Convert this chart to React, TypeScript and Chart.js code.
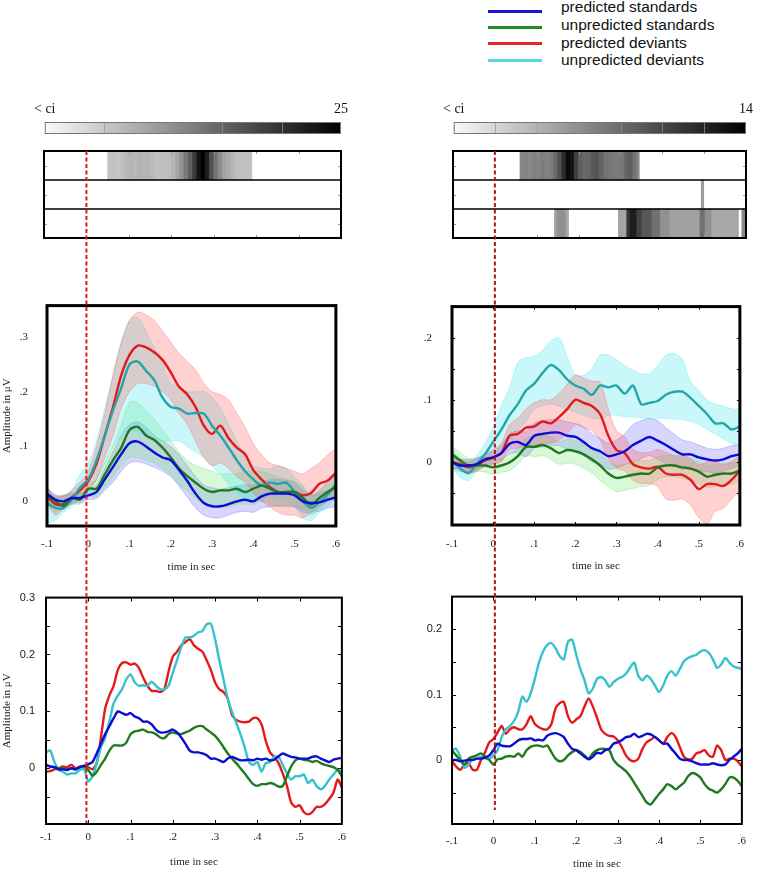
import React, { useEffect, useRef } from 'react';
import { Chart, registerables } from 'chart.js';
Chart.register(...registerables);

const SERIF = "'Liberation Serif', 'Times New Roman', serif";
const SANS = "'Liberation Sans', Arial, sans-serif";

// ---------- time axes ----------
const T02 = [-0.1,-0.08,-0.06,-0.04,-0.02,0,0.02,0.04,0.06,0.08,0.1,0.12,0.14,0.16,0.18,0.2,0.22,0.24,0.26,0.28,0.3,0.32,0.34,0.36,0.38,0.4,0.42,0.44,0.46,0.48,0.5,0.52,0.54,0.56,0.58,0.6];
const T01 = [-0.1,-0.09,-0.08,-0.07,-0.06,-0.05,-0.04,-0.03,-0.02,-0.01,0,0.01,0.02,0.03,0.04,0.05,0.06,0.07,0.08,0.09,0.1,0.11,0.12,0.13,0.14,0.15,0.16,0.17,0.18,0.19,0.2,0.21,0.22,0.23,0.24,0.25,0.26,0.27,0.28,0.29,0.3,0.31,0.32,0.33,0.34,0.35,0.36,0.37,0.38,0.39,0.4,0.41,0.42,0.43,0.44,0.45,0.46,0.47,0.48,0.49,0.5,0.51,0.52,0.53,0.54,0.55,0.56,0.57,0.58,0.59,0.6];
const ONSET = 0;

// ---------- legend ----------
const SERIES_LABELS = ['predicted standards', 'unpredicted standards', 'predicted deviants', 'unpredicted deviants'];
const LEGEND_COLORS = ['#1414d2', '#1f8a2a', '#e22424', '#58d8e6'];

// ---------- colour bars ----------
const CB_LEFT_MAX = 25;
const CB_LEFT_STEP = 5;
const CB_RIGHT_MAX = 14;
const CB_RIGHT_STEP = 2;
const CB_LOW_LABEL = '< ci';

// ---------- heat map rows: [start s, end s, value] ----------
const HEAT_L1 = [[0.05,0.06,5.4],[0.06,0.07,5.6],[0.07,0.08,5.4],[0.08,0.09,5.8],[0.09,0.10,6.5],[0.10,0.11,7],[0.11,0.12,6.6],[0.12,0.13,7],[0.13,0.14,6.8],[0.14,0.15,7],[0.15,0.16,6.5],[0.16,0.17,5.8],[0.17,0.18,5.8],[0.18,0.19,5.8],[0.19,0.20,6],[0.20,0.21,7],[0.21,0.22,8.5],[0.22,0.23,10.5],[0.23,0.24,13],[0.24,0.25,15.5],[0.25,0.26,19],[0.26,0.27,23],[0.27,0.28,25],[0.28,0.29,22],[0.29,0.30,17],[0.30,0.31,13.5],[0.31,0.32,11],[0.32,0.33,9],[0.33,0.34,8],[0.34,0.35,7],[0.35,0.36,6],[0.36,0.37,5.8],[0.37,0.38,5.8],[0.38,0.39,5.6]];
const HEAT_L2: number[][] = [];
const HEAT_L3: number[][] = [];
const HEAT_R1 = [[0.06,0.07,6.4],[0.07,0.08,6.6],[0.08,0.09,6.4],[0.09,0.10,6.8],[0.10,0.11,6.6],[0.11,0.12,7],[0.12,0.13,6.8],[0.13,0.14,7],[0.14,0.15,8],[0.15,0.16,9.5],[0.16,0.17,11.5],[0.17,0.18,13.5],[0.18,0.19,13],[0.19,0.20,10.4],[0.20,0.21,8.6],[0.21,0.22,8.2],[0.22,0.23,8.4],[0.23,0.24,9],[0.24,0.25,9.2],[0.25,0.26,8.4],[0.26,0.27,7.6],[0.27,0.28,7.4],[0.28,0.29,7.2],[0.29,0.30,7.1],[0.30,0.31,7.4],[0.31,0.32,8.4],[0.32,0.33,8.6],[0.33,0.34,7.4],[0.34,0.345,6.4]];
const HEAT_R2 = [[0.493,0.499,5.2]];
const HEAT_R3 = [[0.142,0.148,4.6],[0.148,0.170,5.9],[0.170,0.176,4.6],[0.295,0.315,4.8],[0.315,0.323,11],[0.323,0.339,12.4],[0.339,0.351,10.4],[0.351,0.375,9.1],[0.375,0.395,7.7],[0.395,0.418,5.9],[0.418,0.490,5.0],[0.490,0.502,7.7],[0.502,0.518,5.9],[0.518,0.582,4.6],[0.590,0.598,6.4]];
const HEAT_TICKS = [0.1, 0.2, 0.3, 0.4, 0.5];

// ---------- middle left (means + CI bands), 0.02 s steps ----------
const ML_BLUE = [0.014,0.003,0,0.006,0.006,0.011,0.017,0.04,0.063,0.086,0.106,0.109,0.1,0.089,0.08,0.075,0.057,0.037,0.014,-0.003,-0.009,-0.009,-0.005,0,0.003,0,0.009,0.014,0.014,0.014,0.011,0,-0.003,-0.002,0.003,0.007];
const ML_GREEN = [0.011,0.0,-0.008,0.006,0.003,0.023,0.023,0.049,0.075,0.098,0.13,0.136,0.12,0.112,0.098,0.08,0.06,0.046,0.034,0.023,0.017,0.02,0.02,0.023,0.017,0.023,0.029,0.023,0.017,0.017,0.017,0.006,-0.006,0.006,0.017,0.026];
const ML_RED = [0.009,-0.005,-0.005,0.007,0.02,0.037,0.069,0.12,0.172,0.23,0.267,0.284,0.281,0.272,0.258,0.235,0.209,0.195,0.172,0.138,0.123,0.138,0.115,0.098,0.086,0.057,0.04,0.026,0.017,0.017,0.017,0.011,0.015,0.032,0.038,0.052];
const ML_CYAN = [-0.003,-0.012,-0.012,0.003,0.025,0.04,0.075,0.12,0.166,0.207,0.25,0.255,0.238,0.221,0.189,0.172,0.169,0.16,0.161,0.16,0.138,0.12,0.098,0.075,0.055,0.04,0.029,0.034,0.032,0.034,0.017,0.0,-0.012,-0.002,0.012,0.032];
const ML_BLUE_HI = [0.025,0.012,0.01,0.015,0.015,0.02,0.03,0.06,0.09,0.12,0.14,0.145,0.135,0.12,0.11,0.1,0.085,0.065,0.045,0.03,0.025,0.022,0.025,0.028,0.03,0.03,0.035,0.04,0.04,0.038,0.035,0.02,0.012,0.015,0.02,0.025];
const ML_BLUE_LO = [0.0,-0.008,-0.01,-0.003,-0.003,0.003,0.005,0.02,0.035,0.055,0.07,0.072,0.068,0.062,0.055,0.045,0.028,0.008,-0.012,-0.025,-0.03,-0.03,-0.025,-0.02,-0.018,-0.02,-0.012,-0.01,-0.008,-0.008,-0.01,-0.02,-0.02,-0.018,-0.012,-0.01];
const ML_GREEN_HI = [0.02,0.008,0.012,0.012,0.015,0.03,0.04,0.07,0.1,0.14,0.18,0.18,0.165,0.15,0.13,0.11,0.09,0.075,0.065,0.06,0.055,0.05,0.05,0.05,0.055,0.055,0.055,0.05,0.045,0.04,0.035,0.025,0.01,0.02,0.035,0.045];
const ML_GREEN_LO = [-0.005,-0.02,-0.01,-0.005,-0.005,0.01,0.008,0.025,0.045,0.065,0.08,0.08,0.075,0.07,0.06,0.05,0.03,0.02,0.005,-0.005,-0.01,-0.01,-0.01,-0.005,-0.005,-0.005,0.0,-0.005,-0.01,-0.01,-0.01,-0.015,-0.025,-0.015,0.0,0.01];
const ML_RED_HI = [0.025,0.01,0.01,0.02,0.035,0.055,0.1,0.16,0.23,0.29,0.33,0.345,0.34,0.33,0.31,0.29,0.27,0.255,0.24,0.215,0.2,0.195,0.185,0.16,0.135,0.105,0.085,0.07,0.065,0.06,0.055,0.05,0.06,0.07,0.085,0.095];
const ML_RED_LO = [-0.005,-0.025,-0.015,-0.005,0.005,0.02,0.04,0.08,0.12,0.17,0.2,0.215,0.215,0.21,0.2,0.185,0.16,0.14,0.11,0.08,0.065,0.07,0.06,0.045,0.035,0.015,0.0,-0.01,-0.02,-0.025,-0.025,-0.03,-0.02,-0.01,0.0,0.01];
const ML_CYAN_HI = [0.025,0.005,0.01,0.02,0.05,0.07,0.11,0.17,0.23,0.29,0.33,0.335,0.31,0.28,0.25,0.215,0.21,0.2,0.2,0.2,0.19,0.17,0.14,0.11,0.08,0.065,0.06,0.06,0.065,0.06,0.045,0.03,0.01,0.02,0.035,0.05];
const ML_CYAN_LO = [-0.04,-0.035,-0.02,-0.01,0.005,0.015,0.04,0.07,0.1,0.12,0.13,0.125,0.12,0.115,0.11,0.11,0.11,0.1,0.09,0.08,0.065,0.05,0.03,0.015,0.005,0.005,0.0,0.01,0.005,0.005,-0.01,-0.03,-0.035,-0.02,-0.01,0.01];

// ---------- middle right (means + CI bands), 0.02 s steps ----------
const MR_BLUE = [-0.001,-0.006,-0.006,-0.004,0.004,0.007,0.014,0.029,0.032,0.027,0.042,0.045,0.047,0.047,0.042,0.04,0.032,0.022,0.017,0.009,0.012,0.017,0.027,0.034,0.04,0.034,0.027,0.019,0.012,0.012,0.007,0.004,0.002,0.004,0.009,0.012];
const MR_GREEN = [0.012,0.002,-0.006,-0.006,-0.006,-0.009,-0.006,-0.001,0.009,0.024,0.024,0.027,0.022,0.014,0.019,0.017,0.012,0.004,-0.006,-0.019,-0.026,-0.024,-0.021,-0.019,-0.019,-0.009,-0.006,-0.006,-0.009,-0.011,-0.016,-0.024,-0.021,-0.019,-0.019,-0.014];
const MR_RED = [-0.001,-0.004,-0.009,-0.006,0.002,0.007,0.014,0.042,0.045,0.055,0.057,0.065,0.062,0.072,0.085,0.1,0.095,0.09,0.077,0.042,0.019,0.014,-0.004,-0.009,-0.011,-0.008,-0.019,-0.021,-0.021,-0.029,-0.044,-0.036,-0.036,-0.039,-0.029,-0.014];
const MR_CYAN = [0.002,-0.011,-0.018,-0.004,0.012,0.032,0.052,0.075,0.093,0.115,0.126,0.143,0.156,0.148,0.133,0.123,0.118,0.108,0.123,0.12,0.123,0.11,0.123,0.093,0.095,0.098,0.108,0.113,0.113,0.103,0.09,0.077,0.062,0.062,0.052,0.057];
const MR_BLUE_HI = [0.008,0.004,0.004,0.006,0.012,0.017,0.026,0.045,0.05,0.048,0.062,0.066,0.068,0.068,0.064,0.062,0.056,0.045,0.038,0.03,0.035,0.045,0.06,0.066,0.07,0.066,0.055,0.045,0.035,0.032,0.027,0.022,0.02,0.022,0.026,0.028];
const MR_BLUE_LO = [-0.01,-0.016,-0.016,-0.014,-0.006,-0.003,0.003,0.013,0.014,0.008,0.022,0.024,0.026,0.026,0.02,0.018,0.01,0.0,-0.004,-0.012,-0.01,-0.005,0.0,0.005,0.01,0.004,-0.002,-0.007,-0.012,-0.01,-0.014,-0.016,-0.018,-0.015,-0.01,-0.006];
const MR_GREEN_HI = [0.025,0.015,0.005,0.004,0.004,0.002,0.005,0.012,0.022,0.038,0.04,0.043,0.04,0.032,0.036,0.034,0.03,0.022,0.012,0.0,-0.006,-0.004,-0.001,0.002,0.002,0.008,0.01,0.01,0.007,0.005,0.0,-0.006,-0.004,-0.002,-0.002,0.0];
const MR_GREEN_LO = [0.0,-0.01,-0.017,-0.016,-0.016,-0.02,-0.017,-0.014,-0.004,0.01,0.008,0.01,0.004,-0.004,-0.002,-0.004,-0.01,-0.018,-0.03,-0.04,-0.048,-0.046,-0.043,-0.04,-0.038,-0.028,-0.024,-0.024,-0.027,-0.03,-0.035,-0.042,-0.04,-0.037,-0.036,-0.03];
const MR_RED_HI = [0.008,0.005,0.0,0.005,0.012,0.02,0.03,0.06,0.07,0.085,0.095,0.1,0.1,0.11,0.125,0.14,0.135,0.13,0.128,0.085,0.05,0.04,0.02,0.015,0.015,0.02,0.015,0.01,0.01,0.005,-0.005,0.0,0.0,-0.005,0.0,0.01];
const MR_RED_LO = [-0.01,-0.012,-0.02,-0.015,-0.008,-0.005,0.0,0.02,0.022,0.025,0.025,0.03,0.03,0.035,0.045,0.06,0.055,0.05,0.035,0.005,-0.01,-0.015,-0.03,-0.035,-0.035,-0.04,-0.06,-0.062,-0.06,-0.07,-0.09,-0.1,-0.08,-0.075,-0.06,-0.045];
const MR_CYAN_HI = [0.02,0.005,0.0,0.01,0.03,0.055,0.09,0.12,0.16,0.168,0.17,0.18,0.195,0.2,0.17,0.14,0.14,0.15,0.172,0.172,0.165,0.155,0.148,0.142,0.142,0.155,0.172,0.175,0.165,0.13,0.115,0.1,0.093,0.09,0.085,0.085];
const MR_CYAN_LO = [-0.01,-0.025,-0.03,-0.015,-0.005,0.005,0.02,0.035,0.05,0.065,0.085,0.09,0.093,0.09,0.085,0.08,0.075,0.07,0.07,0.075,0.075,0.073,0.072,0.071,0.07,0.07,0.07,0.069,0.068,0.065,0.06,0.052,0.045,0.037,0.03,0.025];

// ---------- bottom left, 0.01 s steps ----------
const BL_BLUE = [0.006,0.003,0.002,-0.002,-0.002,-0.003,0,-0.002,0.002,0.004,0.007,0.011,0.026,0.043,0.06,0.074,0.088,0.1,0.097,0.094,0.097,0.091,0.088,0.082,0.082,0.077,0.068,0.063,0.063,0.065,0.068,0.063,0.054,0.043,0.031,0.028,0.028,0.026,0.023,0.017,0.017,0.014,0.011,0.017,0.02,0.017,0.014,0.014,0.015,0.014,0.017,0.015,0.017,0.014,0.015,0.021,0.026,0.023,0.02,0.019,0.017,0.017,0.017,0.02,0.021,0.017,0.014,0.011,0.015,0.017,0.018];
const BL_GREEN = [0.006,0.003,0.002,0,0,-0.002,0,-0.002,0.002,0.003,-0.003,-0.013,-0.006,0.006,0.017,0.031,0.04,0.04,0.04,0.045,0.06,0.065,0.066,0.068,0.064,0.063,0.06,0.054,0.053,0.06,0.063,0.061,0.06,0.063,0.066,0.071,0.074,0.074,0.068,0.063,0.057,0.048,0.037,0.026,0.017,0.009,0,-0.009,-0.019,-0.028,-0.031,-0.028,-0.028,-0.026,-0.028,-0.032,-0.031,-0.014,0.003,0.014,0.017,0.015,0.014,0.011,0.013,0.009,0.006,0.004,0.002,-0.003,-0.014];
const BL_RED = [-0.006,-0.005,-0.002,0,0.003,0.002,0.006,0,0.003,0.004,0.002,-0.002,0.009,0.054,0.105,0.128,0.145,0.173,0.185,0.186,0.182,0.184,0.176,0.159,0.145,0.136,0.136,0.134,0.139,0.17,0.196,0.205,0.216,0.222,0.227,0.216,0.21,0.205,0.19,0.173,0.151,0.139,0.134,0.122,0.094,0.085,0.082,0.081,0.082,0.088,0.088,0.077,0.048,0.028,0.02,0.009,-0.009,-0.031,-0.06,-0.068,-0.065,-0.077,-0.081,-0.077,-0.068,-0.068,-0.063,-0.054,-0.043,-0.02,-0.034];
const BL_CYAN = [0.028,0.031,0.011,-0.003,-0.006,-0.011,-0.009,-0.009,-0.003,-0.002,-0.023,-0.014,0.009,0.037,0.054,0.082,0.114,0.128,0.139,0.156,0.165,0.151,0.145,0.146,0.145,0.152,0.145,0.139,0.139,0.145,0.168,0.19,0.213,0.23,0.23,0.233,0.239,0.241,0.253,0.254,0.227,0.19,0.156,0.122,0.099,0.08,0.06,0.037,0.011,0.006,0.011,-0.006,0.009,0.011,0.02,0.02,0.006,-0.009,-0.02,-0.014,-0.014,-0.011,-0.026,-0.02,-0.031,-0.037,-0.031,-0.02,-0.011,-0.003,-0.006];

// ---------- bottom right, 0.01 s steps ----------
const BR_BLUE = [0,0,-0.002,-0.001,0,0,0.002,0.002,0.004,0.007,0.015,0.025,0.022,0.021,0.021,0.025,0.03,0.032,0.032,0.033,0.03,0.031,0.03,0.037,0.04,0.041,0.039,0.035,0.025,0.017,0.015,0.01,0.005,0.001,0.005,0.011,0.01,0.015,0.017,0.025,0.027,0.03,0.035,0.036,0.04,0.035,0.037,0.04,0.039,0.035,0.03,0.025,0.025,0.017,0.01,0.002,0,0,-0.002,-0.005,-0.007,-0.007,-0.007,-0.005,-0.007,-0.008,-0.007,0,0.005,0.01,0.017];
const BR_GREEN = [0.015,0.007,0,-0.007,0.002,0.005,0.007,0.01,0.005,0,-0.007,0.001,0.002,0.005,0.006,0.005,0.01,0.005,0.015,0.02,0.022,0.022,0.02,0.022,0.012,0.002,-0.002,0,0.007,0.012,0.015,0.012,0.007,0.002,0.01,0.015,0.017,0.017,0.015,0,-0.007,-0.012,-0.017,-0.025,-0.035,-0.045,-0.055,-0.065,-0.068,-0.06,-0.052,-0.045,-0.037,-0.04,-0.045,-0.04,-0.035,-0.025,-0.02,-0.022,-0.027,-0.037,-0.044,-0.047,-0.05,-0.045,-0.037,-0.027,-0.027,-0.032,-0.04];
const BR_RED = [-0.002,-0.01,-0.015,-0.007,-0.005,-0.015,-0.015,0,0.012,0.027,0.032,0.042,0.052,0.04,0.047,0.05,0.047,0.047,0.055,0.067,0.055,0.05,0.047,0.047,0.055,0.079,0.087,0.089,0.067,0.057,0.062,0.067,0.082,0.094,0.082,0.065,0.047,0.04,0.037,0.036,0.03,0.02,0.007,0,-0.002,0.002,0.017,0.027,0.031,0.035,0.03,0.025,0.035,0.041,0.035,0.02,0.005,0.001,0.002,0.01,0.012,0.015,0.007,0.005,0.022,0.015,0,0.002,0.002,-0.002,-0.01];
const BR_CYAN = [0.015,0.017,0.005,-0.012,-0.007,0.002,0.002,0.005,0.002,0.002,0.007,0.015,0.035,0.047,0.052,0.06,0.074,0.097,0.089,0.102,0.124,0.149,0.166,0.176,0.179,0.171,0.159,0.154,0.181,0.184,0.161,0.139,0.122,0.102,0.109,0.124,0.127,0.122,0.112,0.119,0.124,0.127,0.132,0.141,0.149,0.129,0.122,0.129,0.124,0.114,0.104,0.114,0.129,0.136,0.129,0.139,0.151,0.156,0.159,0.161,0.166,0.168,0.164,0.154,0.141,0.146,0.156,0.149,0.143,0.141,0.139];

// ---------- styling ----------
const C_BLUE = '#0c0cd2';
const C_GREEN = '#1f7a1f';
const C_RED = '#e21a1c';
const C_TEAL = '#22a6a8';
const C_CYAN = '#34c3cc';
const F_BLUE = 'rgba(95,95,255,0.26)';
const F_GREEN = 'rgba(90,225,90,0.24)';
const F_RED = 'rgba(255,85,85,0.27)';
const F_CYAN = 'rgba(60,228,238,0.27)';

const grayOf = (v: number, max: number) => {
  const g = Math.round(250 * (1 - Math.max(0, Math.min(v, max)) / max));
  return `rgb(${g},${g},${g})`;
};

const fmtShort = (v: number) => {
  const r = Math.round(v * 10) / 10;
  if (Math.abs(r) < 1e-9) return '0';
  return String(r).replace('0.', '.');
};
const isTenth = (v: number) => Math.abs(v * 10 - Math.round(v * 10)) < 1e-6;
const fmtYMid = (value: any) => {
  const v = Number(value);
  if (!isTenth(v) || v < -1e-9) return '';
  return fmtShort(v);
};
const fmtYBot = (value: any) => {
  const v = Number(value);
  if (!isTenth(v) || v < -1e-9) return '';
  return Math.abs(v) < 1e-9 ? '0' : v.toFixed(1);
};

// ---------- plugins ----------
const framePlugin = {
  id: 'frame',
  afterDraw(chart: any, _a: any, opts: any) {
    const { ctx, chartArea: a, scales } = chart;
    ctx.save();
    const L = opts.tickLen || 0;
    if (L > 0) {
      ctx.strokeStyle = '#000';
      ctx.lineWidth = 1;
      ctx.beginPath();
      scales.x.ticks.forEach((t: any) => {
        const px = Math.round(scales.x.getPixelForValue(t.value)) + 0.5;
        if (px < a.left + 3 || px > a.right - 3) return;
        ctx.moveTo(px, a.bottom); ctx.lineTo(px, a.bottom - L);
        ctx.moveTo(px, a.top); ctx.lineTo(px, a.top + L);
      });
      scales.y.ticks.forEach((t: any) => {
        const py = Math.round(scales.y.getPixelForValue(t.value)) + 0.5;
        if (py < a.top + 3 || py > a.bottom - 3) return;
        ctx.moveTo(a.left, py); ctx.lineTo(a.left + L, py);
        ctx.moveTo(a.right, py); ctx.lineTo(a.right - L, py);
      });
      ctx.stroke();
    }
    ctx.strokeStyle = '#000';
    ctx.lineWidth = opts.lineWidth;
    ctx.strokeRect(a.left, a.top, a.right - a.left, a.bottom - a.top);
    ctx.restore();
  },
};

const heatFramePlugin = {
  id: 'heatFrame',
  afterDraw(chart: any) {
    const { ctx, chartArea: a, scales } = chart;
    const x = scales.x, y = scales.y;
    ctx.save();
    ctx.strokeStyle = '#999';
    ctx.lineWidth = 1;
    ctx.beginPath();
    HEAT_TICKS.forEach((t) => {
      const px = Math.round(x.getPixelForValue(t)) + 0.5;
      ctx.moveTo(px, a.bottom); ctx.lineTo(px, a.bottom - 3);
      ctx.moveTo(px, a.top); ctx.lineTo(px, a.top + 3);
    });
    [0, 1, 2].forEach((i) => {
      const py = Math.round(y.getPixelForValue(i)) + 0.5;
      ctx.moveTo(a.left, py); ctx.lineTo(a.left + 3, py);
      ctx.moveTo(a.right, py); ctx.lineTo(a.right - 3, py);
    });
    ctx.stroke();
    ctx.strokeStyle = '#000';
    ctx.lineWidth = 1.5;
    ctx.beginPath();
    [0.5, 1.5].forEach((i) => {
      const py = y.getPixelForValue(i);
      ctx.moveTo(a.left, py); ctx.lineTo(a.right, py);
    });
    ctx.stroke();
    ctx.lineWidth = 2;
    ctx.strokeRect(a.left, a.top, a.right - a.left, a.bottom - a.top);
    ctx.restore();
  },
};

const colorbarPlugin = {
  id: 'cbFrame',
  afterDatasetsDraw(chart: any) {
    const { ctx, chartArea: a, scales } = chart;
    ctx.save();
    ctx.strokeStyle = 'rgba(150,150,150,0.7)';
    ctx.lineWidth = 1;
    ctx.beginPath();
    scales.x.ticks.forEach((t: any) => {
      const px = Math.round(scales.x.getPixelForValue(t.value)) + 0.5;
      if (px < a.left + 2 || px > a.right - 2) return;
      ctx.moveTo(px, a.top); ctx.lineTo(px, a.bottom);
    });
    ctx.stroke();
    ctx.strokeStyle = '#777';
    ctx.strokeRect(a.left + 0.5, a.top + 0.5, a.right - a.left - 1, a.bottom - a.top - 1);
    ctx.restore();
  },
};

const onsetPlugin = {
  id: 'onset',
  afterDraw(chart: any, _a: any, opts: any) {
    const { ctx, chartArea: a, scales } = chart;
    const px = scales.x.getPixelForValue(opts.at);
    ctx.save();
    ctx.strokeStyle = opts.color;
    ctx.lineWidth = 2;
    ctx.setLineDash([4, 2.5]);
    ctx.beginPath();
    ctx.moveTo(px, a.top);
    ctx.lineTo(px, a.bottom);
    ctx.stroke();
    ctx.restore();
  },
};

// ---------- dataset helpers ----------
const pts = (T: number[], V: number[]) => T.slice(0, V.length).map((t, i) => ({ x: t, y: V[i] }));
const lineDs = (T: number[], V: number[], color: string, label: string, tension: number) => ({
  label, data: pts(T, V), borderColor: color, borderWidth: 2.4, pointRadius: 0, tension, fill: false,
});
const bandDs = (T: number[], HI: number[], LO: number[], fill: string) => {
  const edge = fill.replace(/[\d.]+\)$/, '0.45)');
  return [
    { label: 'ci+', data: pts(T, HI), borderColor: edge, borderWidth: 0.7, backgroundColor: fill, fill: '+1', pointRadius: 0, tension: 0.3 },
    { label: 'ci-', data: pts(T, LO), borderColor: edge, borderWidth: 0.7, fill: false, pointRadius: 0, tension: 0.3 },
  ];
};

type PanelSpec = {
  pl: number; pt: number; pr: number; pb: number;
  yMin: number; yMax: number; yFmt: (v: any) => string; yFont: string;
  xPad: number; yPad: number; titlePad: number; yTitle: boolean;
  frameWidth: number; tickLen: number; datasets: () => any[];
};

const lineConfig = (p: PanelSpec) => () => ({
  type: 'line',
  data: { datasets: p.datasets() },
  options: {
    responsive: false, animation: false, devicePixelRatio: 1, events: [],
    layout: { padding: { top: p.pt, right: p.pr, left: 0, bottom: 0 } },
    plugins: { legend: { display: false }, tooltip: { enabled: false }, frame: { lineWidth: p.frameWidth, tickLen: p.tickLen } },
    scales: {
      x: {
        type: 'linear', min: -0.1, max: 0.6,
        afterFit: (s: any) => { s.height = p.pb; },
        grid: { display: false, drawTicks: false }, border: { display: false },
        ticks: { stepSize: 0.1, autoSkip: false, maxRotation: 0, padding: p.xPad, color: '#1a1a1a', font: { family: SERIF, size: 11 }, callback: (v: any) => fmtShort(Number(v)) },
        title: { display: true, text: 'time in sec', color: '#1a1a1a', font: { family: SERIF, size: 11 }, padding: { top: 0, bottom: p.titlePad } },
      },
      y: {
        type: 'linear', min: p.yMin, max: p.yMax,
        afterFit: (s: any) => { s.width = p.pl; },
        grid: { display: false, drawTicks: false }, border: { display: false },
        ticks: { stepSize: 0.05, autoSkip: false, includeBounds: false, padding: p.yPad, color: '#1a1a1a', font: { family: p.yFont, size: 11 }, callback: p.yFmt },
        title: { display: p.yTitle, text: 'Amplitude in μV', color: '#1a1a1a', font: { family: SERIF, size: 11 }, padding: { top: 1, bottom: 0 } },
      },
    },
  },
  plugins: [framePlugin],
});

const heatConfig = (rows: number[][][], max: number) => () => ({
  type: 'bar',
  data: {
    labels: ['r1', 'r2', 'r3'],
    datasets: rows.map((segs, r) => ({
      data: segs.map((s) => ({ x: [s[0], s[1]], y: ['r1', 'r2', 'r3'][r] })),
      backgroundColor: segs.map((s) => grayOf(s[2], max)),
      borderWidth: 0, barPercentage: 1, categoryPercentage: 1, grouped: false,
    })),
  },
  options: {
    indexAxis: 'y', responsive: false, animation: false, devicePixelRatio: 1, events: [],
    layout: { padding: 4 },
    plugins: { legend: { display: false }, tooltip: { enabled: false } },
    scales: {
      x: { type: 'linear', min: -0.1, max: 0.6, display: false },
      y: { type: 'category', display: false },
    },
  },
  plugins: [heatFramePlugin],
});

const colorbarConfig = (max: number, step: number, pr: number) => () => ({
  type: 'bar',
  data: {
    labels: ['cb'],
    datasets: [{
      data: [[0, max]],
      backgroundColor: (c: any) => {
        const ch = c.chart;
        const sx = ch.scales && ch.scales.x;
        if (!ch.chartArea || !sx) return '#888';
        const g = ch.ctx.createLinearGradient(sx.getPixelForValue(0), 0, sx.getPixelForValue(max), 0);
        g.addColorStop(0, grayOf(0, max));
        g.addColorStop(1, grayOf(max, max));
        return g;
      },
      borderWidth: 0, barPercentage: 1, categoryPercentage: 1,
    }],
  },
  options: {
    indexAxis: 'y', responsive: false, animation: false, devicePixelRatio: 1, events: [],
    layout: { padding: { left: 14, right: pr, top: 0, bottom: 4 } },
    plugins: { legend: { display: false }, tooltip: { enabled: false } },
    scales: {
      x: {
        type: 'linear', position: 'top', min: 0, max,
        afterFit: (s: any) => { s.height = 27; },
        grid: { display: false, drawTicks: false }, border: { display: false },
        ticks: {
          stepSize: step, autoSkip: false, maxRotation: 0, padding: 4, color: '#111',
          font: { family: SERIF, size: 14 },
          callback: (v: any) => {
            const n = Number(v);
            if (Math.abs(n) < 1e-9) return CB_LOW_LABEL;
            if (Math.abs(n - max) < 1e-9) return String(max);
            return '';
          },
        },
      },
      y: { display: false },
    },
  },
  plugins: [colorbarPlugin],
});

const onsetConfig = (color: string) => () => ({
  type: 'scatter',
  data: { datasets: [] },
  options: {
    responsive: false, animation: false, devicePixelRatio: 1, events: [],
    layout: { padding: 0 },
    plugins: { legend: { display: false }, tooltip: { enabled: false }, onset: { at: ONSET, color } },
    scales: { x: { type: 'linear', min: -0.1, max: 0.6, display: false }, y: { type: 'linear', min: 0, max: 1, display: false } },
  },
  plugins: [onsetPlugin],
});

// ---------- panel specs ----------
const ML = lineConfig({
  pl: 47, pt: 13, pr: 10, pb: 54, yMin: -0.045, yMax: 0.357, yFmt: fmtYMid, yFont: SERIF,
  xPad: 12, yPad: 19, titlePad: 6, yTitle: true, frameWidth: 3, tickLen: 0,
  datasets: () => [
    lineDs(T02, ML_BLUE, C_BLUE, SERIES_LABELS[0], 0.3),
    lineDs(T02, ML_GREEN, C_GREEN, SERIES_LABELS[1], 0.3),
    lineDs(T02, ML_CYAN, C_TEAL, SERIES_LABELS[3], 0.3),
    lineDs(T02, ML_RED, C_RED, SERIES_LABELS[2], 0.3),
    ...bandDs(T02, ML_RED_HI, ML_RED_LO, F_RED),
    ...bandDs(T02, ML_CYAN_HI, ML_CYAN_LO, F_CYAN),
    ...bandDs(T02, ML_GREEN_HI, ML_GREEN_LO, F_GREEN),
    ...bandDs(T02, ML_BLUE_HI, ML_BLUE_LO, F_BLUE),
  ],
});
const MR = lineConfig({
  pl: 42, pt: 13, pr: 9, pb: 55, yMin: -0.102, yMax: 0.2503, yFmt: fmtYMid, yFont: SERIF,
  xPad: 13, yPad: 20, titlePad: 7, yTitle: false, frameWidth: 3, tickLen: 3,
  datasets: () => [
    lineDs(T02, MR_BLUE, C_BLUE, SERIES_LABELS[0], 0.3),
    lineDs(T02, MR_GREEN, C_GREEN, SERIES_LABELS[1], 0.3),
    lineDs(T02, MR_CYAN, C_TEAL, SERIES_LABELS[3], 0.3),
    lineDs(T02, MR_RED, C_RED, SERIES_LABELS[2], 0.3),
    ...bandDs(T02, MR_RED_HI, MR_RED_LO, F_RED),
    ...bandDs(T02, MR_CYAN_HI, MR_CYAN_LO, F_CYAN),
    ...bandDs(T02, MR_GREEN_HI, MR_GREEN_LO, F_GREEN),
    ...bandDs(T02, MR_BLUE_HI, MR_BLUE_LO, F_BLUE),
  ],
});
const BL = lineConfig({
  pl: 46, pt: 11, pr: 10, pb: 47, yMin: -0.098, yMax: 0.3, yFmt: fmtYBot, yFont: SANS,
  xPad: 7, yPad: 11, titlePad: 2, yTitle: true, frameWidth: 2, tickLen: 4,
  datasets: () => [
    lineDs(T01, BL_BLUE, C_BLUE, SERIES_LABELS[0], 0.25),
    lineDs(T01, BL_GREEN, C_GREEN, SERIES_LABELS[1], 0.25),
    lineDs(T01, BL_CYAN, C_CYAN, SERIES_LABELS[3], 0.25),
    lineDs(T01, BL_RED, C_RED, SERIES_LABELS[2], 0.25),
  ],
});
const BR = lineConfig({
  pl: 42, pt: 10, pr: 8, pb: 47, yMin: -0.098, yMax: 0.25, yFmt: fmtYBot, yFont: SANS,
  xPad: 11, yPad: 10, titlePad: 0, yTitle: false, frameWidth: 2, tickLen: 4,
  datasets: () => [
    lineDs(T01, BR_BLUE, C_BLUE, SERIES_LABELS[0], 0.25),
    lineDs(T01, BR_GREEN, C_GREEN, SERIES_LABELS[1], 0.25),
    lineDs(T01, BR_CYAN, C_CYAN, SERIES_LABELS[3], 0.25),
    lineDs(T01, BR_RED, C_RED, SERIES_LABELS[2], 0.25),
  ],
});

function ChartCanvas({ x, y, w, h, make }: { x: number; y: number; w: number; h: number; make: () => any }) {
  const ref = useRef<HTMLCanvasElement>(null);
  useEffect(() => {
    const chart = new Chart(ref.current as HTMLCanvasElement, make());
    return () => chart.destroy();
  }, []);
  return (
    <canvas
      ref={ref}
      width={w}
      height={h}
      style={{ position: 'absolute', left: x, top: y, width: w, height: h, display: 'block' }}
    />
  );
}

function Legend() {
  const lineTops = [10, 26, 42, 58.5];
  const textCenters = [7, 25, 42.5, 60];
  return (
    <div style={{ position: 'absolute', left: 0, top: 0 }}>
      {SERIES_LABELS.map((lab, i) => (
        <React.Fragment key={lab}>
          <div style={{ position: 'absolute', left: 488, top: lineTops[i], width: 54, height: 3, background: LEGEND_COLORS[i] }} />
          <div style={{ position: 'absolute', left: 561, top: textCenters[i] - 9, height: 18, lineHeight: '18px', whiteSpace: 'nowrap', fontFamily: SANS, fontSize: 15.5, color: '#111' }}>{lab}</div>
        </React.Fragment>
      ))}
    </div>
  );
}

export default function App() {
  return (
    <div style={{ position: 'absolute', left: 0, top: 0, width: 757, height: 871, background: '#fff', overflow: 'hidden' }}>
      <Legend />
      <ChartCanvas x={30} y={95} w={327} h={43} make={colorbarConfig(CB_LEFT_MAX, CB_LEFT_STEP, 16)} />
      <ChartCanvas x={439} y={95} w={318} h={43} make={colorbarConfig(CB_RIGHT_MAX, CB_RIGHT_STEP, 10)} />
      <ChartCanvas x={40} y={147} w={305} h={95} make={heatConfig([HEAT_L1, HEAT_L2, HEAT_L3], CB_LEFT_MAX)} />
      <ChartCanvas x={449} y={147} w={301} h={95} make={heatConfig([HEAT_R1, HEAT_R2, HEAT_R3], CB_RIGHT_MAX)} />
      <ChartCanvas x={0} y={280} w={352} h={300} make={ML} />
      <ChartCanvas x={410} y={280} w={347} h={300} make={MR} />
      <ChartCanvas x={0} y={580} w={353} h={291} make={BL} />
      <ChartCanvas x={410} y={580} w={347} h={291} make={BR} />
      <ChartCanvas x={44} y={151} w={297} h={672} make={onsetConfig('#e5161c')} />
      <ChartCanvas x={453} y={151} w={293} h={659} make={onsetConfig('#a8161a')} />
    </div>
  );
}
